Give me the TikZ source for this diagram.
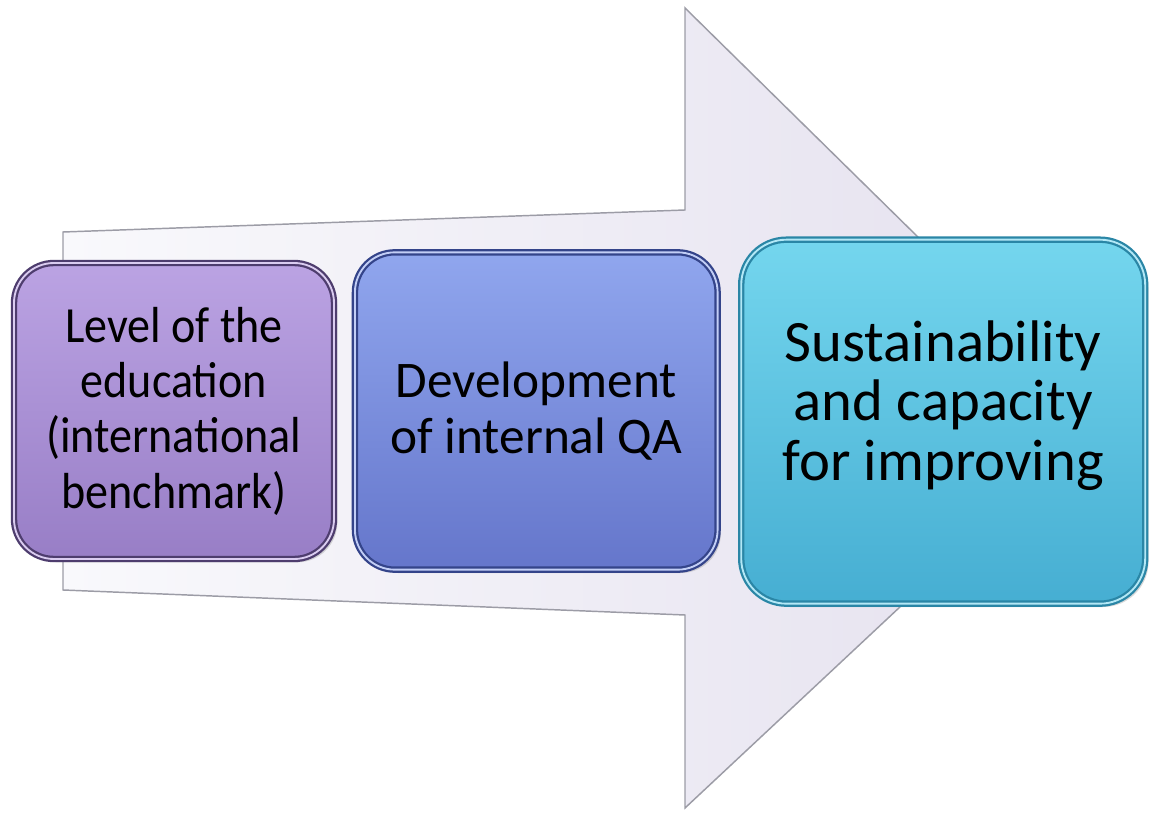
\documentclass[tikz,border=0pt]{standalone}
\usepackage{fontspec}
\setmainfont{Carlito}
\newfontfamily\narrowfont{Carlito}[FakeStretch=0.91]
\usetikzlibrary{positioning,shadows}

\definecolor{arrowline}{HTML}{9C9CA6}
\definecolor{arrowleft}{HTML}{F9F9FC}
\definecolor{arrowright}{HTML}{E4E0EE}
\definecolor{lilacline}{HTML}{4E3D6E}
\definecolor{lilactop}{HTML}{BBA3E3}
\definecolor{lilacbot}{HTML}{987EC6}
\definecolor{blueline}{HTML}{34448A}
\definecolor{bluetop}{HTML}{90A6EE}
\definecolor{bluebot}{HTML}{6576CB}
\definecolor{cyanline}{HTML}{2A86A6}
\definecolor{cyantop}{HTML}{74D6EE}
\definecolor{cyanbot}{HTML}{46AED2}

\tikzset{
  stage/.style={rounded corners=30pt, align=center, inner sep=0pt,
    line width=1.7pt, double distance=1.4pt,
    drop shadow={shadow xshift=2.5pt, shadow yshift=-2.5pt, opacity=0.3}},
  lilac/.style={stage, draw=lilacline, double=lilactop!55!white,
    top color=lilactop, bottom color=lilacbot,
    minimum width=240pt, minimum height=222pt,
    font=\narrowfont\fontsize{38}{41.5}\selectfont},
  bluish/.style={stage, draw=blueline, double=bluetop!55!white,
    top color=bluetop, bottom color=bluebot,
    minimum width=272pt, minimum height=238pt,
    font=\fontsize{38.5}{41.5}\selectfont},
  cyanish/.style={stage, rounded corners=34pt, draw=cyanline, double=cyantop!55!white,
    top color=cyantop, bottom color=cyanbot,
    minimum width=303pt, minimum height=273pt,
    font=\fontsize{44}{44.5}\selectfont}
}

\begin{document}
\begin{tikzpicture}[x=0.75pt, y=-0.75pt]
  \useasboundingbox (0,0) rectangle (1149,816);
  \draw[arrowline, line width=1.1pt, left color=arrowleft, right color=arrowright]
    (63,232) -- (685,210) -- (685,8) -- (1102,418) -- (685,808)
    -- (685,615) -- (63,590) -- cycle;
  \node[lilac]   (level)       at (174,411)         {Level of the\\education\\(international\\benchmark)};
  \node[bluish]  (development) [right=14pt of level] {Development\\of internal QA};
  \node[cyanish] (sustain)     [right=16pt of development, yshift=-8pt] {Sustainability\\and capacity\\for improving\rule[-32pt]{0pt}{0pt}};
\end{tikzpicture}
\end{document}
